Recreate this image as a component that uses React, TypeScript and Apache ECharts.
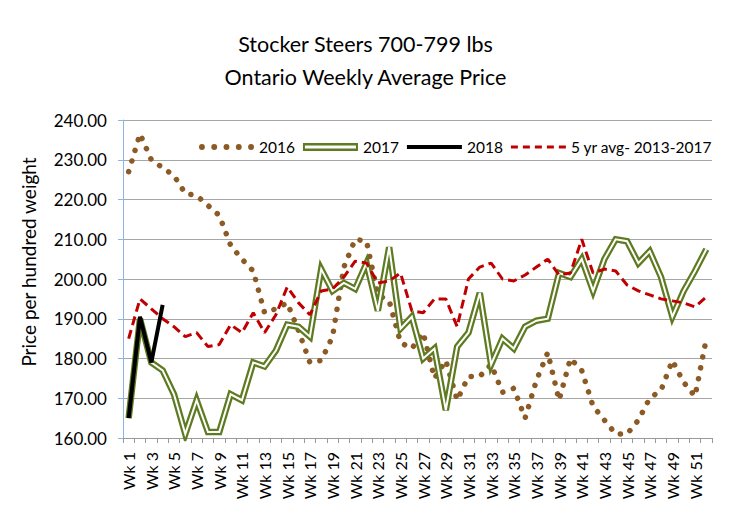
import React, { useEffect, useRef } from "react";
import * as echarts from "echarts";

const weeks: string[] = Array.from({ length: 52 }, (_, i) => `Wk ${i + 1}`);

const y2016: number[] = [
  227, 236.5, 230, 228, 226, 221.5, 221, 218.5, 216, 208.5,
  205, 202, 191.5, 192.5, 194, 187, 179, 179.5, 185.5, 203,
  210, 209.5, 196, 194.5, 184, 182.5, 186.5, 175, 179.5, 169.5,
  175.5, 175.5, 178.5, 171.5, 172.5, 165, 174.5, 181.5, 169.5, 180,
  177, 168, 164.5, 161, 161, 164.5, 170, 172, 179.5, 174,
  170.5, 185,
];

const y2017: number[] = [
  165, 190, 179, 177, 171, 161, 169.5, 161.5, 161.5, 171,
  169.5, 179, 178, 182, 188.5, 188, 185.5, 202.5, 197, 199,
  197.5, 204, 192, 208, 187.5, 190.5, 180, 182.5, 167, 183,
  186.5, 196.5, 178.5, 185, 182.5, 188, 189.5, 190, 201.5, 200.5,
  205, 197, 205, 210, 209.5, 204, 207, 200.5, 190.5, 197,
  202, 207.5,
];

const y2018: number[] = [165, 190.5, 179, 193.5];

const yAvg: number[] = [
  185, 195, 192.5, 190, 188, 185.5, 186.5, 183, 183.5, 188.5,
  186.5, 191.5, 186.5, 191, 198, 194, 191, 197, 197.5, 200.5,
  204.5, 204, 199, 199.5, 201.5, 192, 191.5, 195, 195, 188,
  200, 203, 204, 200, 199.5, 201, 203, 205, 201, 201.5,
  210, 201.5, 202.5, 202, 198.5, 197, 196, 195, 194.5, 194,
  193, 195.5,
];

const seriesNames = ["2016", "2017", "2018", "5 yr avg- 2013-2017"];

const FONT = "Lato, 'Open Sans', sans-serif";

const dotsIcon =
  "path://" +
  [0, 1, 2, 3, 4]
    .map((k) => {
      const cx = 3 + 12.5 * k;
      return `M${cx - 3},4 a3,3 0 1,0 6,0 a3,3 0 1,0 -6,0 Z`;
    })
    .join(" ");
const doubleIcon = "path://M0,0 H56 V8 H0 Z M2,2.5 V5.5 H54 V2.5 Z";
const solidIcon = "path://M0,2 H56 V6 H0 Z";
const dashIcon =
  "path://" +
  [0, 12, 24, 36, 48].map((x) => `M${x},2.5 H${x + 7} V5.5 H${x} Z`).join(" ");

export default function App() {
  const ref = useRef<HTMLDivElement>(null);
  useEffect(() => {
    if (!ref.current) return;
    const chart = echarts.init(ref.current, null, { renderer: "svg" });
    chart.setOption({
      animation: false,
      backgroundColor: "#ffffff",
      textStyle: { fontFamily: FONT },
      title: {
        text: "Stocker Steers 700-799 lbs\nOntario Weekly Average Price",
        left: "center",
        top: 22,
        textStyle: {
          fontFamily: FONT,
          fontSize: 21.5,
          fontWeight: "normal",
          lineHeight: 33,
          color: "#000",
        },
      },
      legend: {
        left: 194,
        top: 134,
        width: 600,
        itemWidth: 55,
        itemHeight: 8,
        itemGap: 8,
        itemStyle: { borderWidth: 0 },
        textStyle: { fontFamily: FONT, fontSize: 15.5, color: "#000" },
        data: [
          { name: seriesNames[0], icon: dotsIcon },
          { name: seriesNames[1], icon: doubleIcon },
          { name: seriesNames[2], icon: solidIcon },
          { name: seriesNames[3], icon: dashIcon },
        ],
      },
      grid: { left: 123, right: 19, top: 120, bottom: 85 },
      xAxis: {
        type: "category",
        data: weeks,
        boundaryGap: true,
        axisLine: { lineStyle: { color: "#999999", width: 1 } },
        axisTick: { show: true, interval: 0, length: 5, lineStyle: { color: "#999999" } },
        axisLabel: {
          interval: 1,
          rotate: 90,
          margin: 14,
          fontFamily: FONT,
          fontSize: 16,
          color: "#000",
        },
        splitLine: { show: false },
      },
      yAxis: {
        type: "value",
        min: 160,
        max: 240,
        interval: 10,
        axisLine: { show: true, lineStyle: { color: "#8eb4e3", width: 1 } },
        axisTick: { show: true, length: 5, lineStyle: { color: "#8eb4e3" } },
        axisLabel: {
          margin: 16,
          fontFamily: FONT,
          fontSize: 17,
          color: "#000",
          formatter: (v: number) => v.toFixed(2),
        },
        splitLine: { show: true, lineStyle: { color: "#a6a6a6", width: 1 } },
      },
      graphic: [
        {
          type: "rect",
          shape: { x: 2, y: 2, width: 800, height: 700 },
          style: { fill: "none", stroke: "#9a9a9a", lineWidth: 1.5 },
          silent: true,
        },
        {
          type: "text",
          x: 28,
          y: 262,
          rotation: Math.PI / 2,
          style: {
            text: "Price per hundred weight",
            fontFamily: FONT,
            fontSize: 19,
            fill: "#000",
            align: "center",
            verticalAlign: "middle",
          },
        },
      ],
      series: [
        {
          name: seriesNames[0],
          type: "line",
          data: y2016,
          symbol: "none",
          color: "#8c5a24",
          lineStyle: { color: "#8c5a24", width: 5.5, type: [0.1, 11], cap: "round" },
          z: 2,
        },
        {
          name: seriesNames[1],
          type: "line",
          data: y2017,
          symbol: "none",
          color: "#5f7b22",
          lineStyle: { color: "#5f7b22", width: 6.5, join: "miter" },
          z: 3,
        },
        {
          name: "2017 inner",
          type: "line",
          data: y2017,
          symbol: "none",
          color: "#ffffff",
          lineStyle: { color: "#ffffff", width: 2, join: "miter" },
          z: 3,
        },
        {
          name: seriesNames[2],
          type: "line",
          data: y2018,
          symbol: "none",
          color: "#000000",
          lineStyle: { color: "#000000", width: 4 },
          z: 5,
        },
        {
          name: seriesNames[3],
          type: "line",
          data: yAvg,
          symbol: "none",
          color: "#c00000",
          lineStyle: { color: "#c00000", width: 3, type: [9, 5] },
          z: 4,
        },
      ],
    });
    return () => chart.dispose();
  }, []);
  return <div ref={ref} style={{ width: 731, height: 523, marginLeft: -8, marginTop: -8 }} />;
}
